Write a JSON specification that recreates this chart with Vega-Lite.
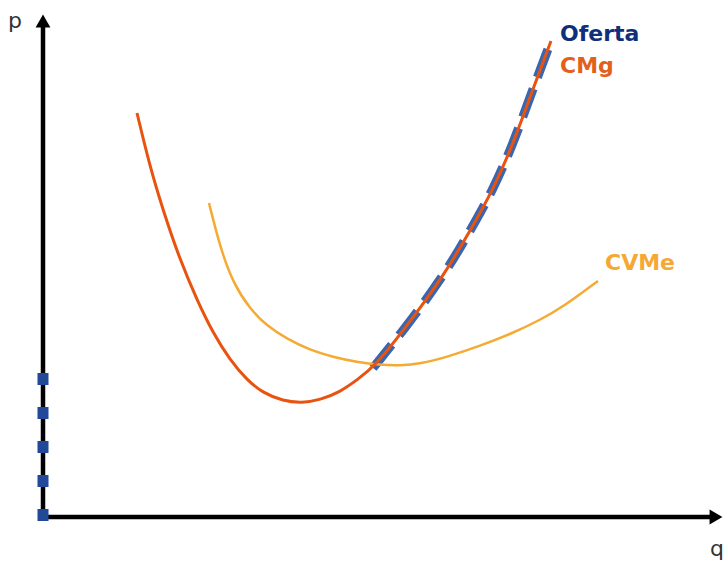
{
  "$schema": "https://vega.github.io/schema/vega-lite/v6.json",
  "width": 728,
  "height": 563,
  "padding": 0,
  "autosize": {"type": "fit", "contains": "padding"},
  "background": "white",
  "config": {"view": {"stroke": null}},
  "datasets": {
    "curves": [
      {"s": "CMg", "q": 9.4, "p": 40.4},
      {"s": "CMg", "q": 10.7, "p": 35.0},
      {"s": "CMg", "q": 12.0, "p": 30.7},
      {"s": "CMg", "q": 13.7, "p": 25.7},
      {"s": "CMg", "q": 15.4, "p": 21.7},
      {"s": "CMg", "q": 17.0, "p": 18.4},
      {"s": "CMg", "q": 18.7, "p": 15.7},
      {"s": "CMg", "q": 20.4, "p": 13.7},
      {"s": "CMg", "q": 22.0, "p": 12.4},
      {"s": "CMg", "q": 24.0, "p": 11.6},
      {"s": "CMg", "q": 25.9, "p": 11.4},
      {"s": "CMg", "q": 27.7, "p": 11.7},
      {"s": "CMg", "q": 29.7, "p": 12.5},
      {"s": "CMg", "q": 31.4, "p": 13.7},
      {"s": "CMg", "q": 33.2, "p": 15.1},
      {"s": "CMg", "q": 36.0, "p": 18.6},
      {"s": "CMg", "q": 40.0, "p": 24.0},
      {"s": "CMg", "q": 42.7, "p": 28.6},
      {"s": "CMg", "q": 45.0, "p": 32.7},
      {"s": "CMg", "q": 47.0, "p": 37.3},
      {"s": "CMg", "q": 48.7, "p": 42.0},
      {"s": "CMg", "q": 50.8, "p": 47.6},
      {"s": "CVMe", "q": 16.6, "p": 31.4},
      {"s": "CVMe", "q": 17.7, "p": 27.0},
      {"s": "CVMe", "q": 19.0, "p": 23.4},
      {"s": "CVMe", "q": 20.7, "p": 20.8},
      {"s": "CVMe", "q": 22.4, "p": 19.1},
      {"s": "CVMe", "q": 24.4, "p": 17.8},
      {"s": "CVMe", "q": 26.7, "p": 16.7},
      {"s": "CVMe", "q": 29.0, "p": 16.0},
      {"s": "CVMe", "q": 31.4, "p": 15.5},
      {"s": "CVMe", "q": 33.7, "p": 15.2},
      {"s": "CVMe", "q": 35.7, "p": 15.15},
      {"s": "CVMe", "q": 37.7, "p": 15.3},
      {"s": "CVMe", "q": 40.4, "p": 16.0},
      {"s": "CVMe", "q": 43.7, "p": 17.1},
      {"s": "CVMe", "q": 47.0, "p": 18.4},
      {"s": "CVMe", "q": 49.7, "p": 19.7},
      {"s": "CVMe", "q": 52.0, "p": 21.0},
      {"s": "CVMe", "q": 55.5, "p": 23.6},
      {"s": "Oferta", "q": 33.0, "p": 14.9},
      {"s": "Oferta", "q": 36.0, "p": 18.6},
      {"s": "Oferta", "q": 40.0, "p": 24.0},
      {"s": "Oferta", "q": 42.7, "p": 28.6},
      {"s": "Oferta", "q": 45.0, "p": 32.7},
      {"s": "Oferta", "q": 47.0, "p": 37.3},
      {"s": "Oferta", "q": 48.7, "p": 42.0},
      {"s": "Oferta", "q": 50.8, "p": 47.6}
    ],
    "ofertaAxis": [
      {"q": 0, "p": -0.4},
      {"q": 0, "p": 14.4}
    ],
    "axes": [
      {"q": 0, "p": 0, "q2": 0, "p2": 49.0},
      {"q": 0, "p": 0, "q2": 66.8, "p2": 0}
    ],
    "arrows": [
      {"q": 0, "p": 49.6, "shape": "triangle-up"},
      {"q": 67.3, "p": 0, "shape": "triangle-right"}
    ],
    "labels": [
      {"t": "Oferta", "q": 51.7, "p": 48.3, "c": "Oferta"},
      {"t": "CMg", "q": 51.7, "p": 45.1, "c": "CMg"},
      {"t": "CVMe", "q": 56.2, "p": 25.4, "c": "CVMe"}
    ],
    "axisLabels": [
      {"t": "p", "q": -2.8, "p": 49.6},
      {"t": "q", "q": 67.4, "p": -3.2}
    ]
  },
  "layer": [
    {
      "data": {"name": "axes"},
      "mark": {"type": "rule", "color": "black", "strokeWidth": 4.5},
      "encoding": {
        "x": {"field": "q", "type": "quantitative", "scale": {"domain": [-4.3, 68.5], "nice": false, "zero": false}, "axis": null},
        "y": {"field": "p", "type": "quantitative", "scale": {"domain": [-4.6, 51.7], "nice": false, "zero": false}, "axis": null},
        "x2": {"field": "q2"},
        "y2": {"field": "p2"}
      }
    },
    {
      "data": {"name": "arrows"},
      "mark": {"type": "point", "filled": true, "color": "black", "opacity": 1, "size": 220},
      "encoding": {
        "x": {"field": "q", "type": "quantitative"},
        "y": {"field": "p", "type": "quantitative"},
        "shape": {"field": "shape", "type": "nominal", "scale": null}
      }
    },
    {
      "data": {"name": "ofertaAxis"},
      "mark": {"type": "line", "color": "#22489a", "strokeWidth": 11, "strokeDash": [12, 22], "strokeCap": "butt"},
      "encoding": {
        "x": {"field": "q", "type": "quantitative"},
        "y": {"field": "p", "type": "quantitative"}
      }
    },
    {
      "data": {"name": "curves"},
      "transform": [{"filter": "datum.s === 'Oferta'"}],
      "mark": {"type": "line", "color": "#3a66b0", "strokeWidth": 9, "strokeDash": [30, 12], "strokeCap": "butt", "interpolate": "basis"},
      "encoding": {
        "x": {"field": "q", "type": "quantitative"},
        "y": {"field": "p", "type": "quantitative"}
      }
    },
    {
      "data": {"name": "curves"},
      "transform": [{"filter": "datum.s === 'CVMe'"}],
      "mark": {"type": "line", "color": "#f5aa33", "strokeWidth": 2.5, "interpolate": "basis"},
      "encoding": {
        "x": {"field": "q", "type": "quantitative"},
        "y": {"field": "p", "type": "quantitative"}
      }
    },
    {
      "data": {"name": "curves"},
      "transform": [{"filter": "datum.s === 'CMg'"}],
      "mark": {"type": "line", "color": "#e8530f", "strokeWidth": 3, "interpolate": "basis"},
      "encoding": {
        "x": {"field": "q", "type": "quantitative"},
        "y": {"field": "p", "type": "quantitative"}
      }
    },
    {
      "data": {"name": "labels"},
      "mark": {"type": "text", "align": "left", "baseline": "middle", "font": "DejaVu Sans", "fontWeight": "bold", "fontSize": 22},
      "encoding": {
        "x": {"field": "q", "type": "quantitative"},
        "y": {"field": "p", "type": "quantitative"},
        "text": {"field": "t"},
        "color": {"field": "c", "type": "nominal", "legend": null, "scale": {"domain": ["Oferta", "CMg", "CVMe"], "range": ["#0f2f7d", "#e35f1c", "#f5a835"]}}
      }
    },
    {
      "data": {"name": "axisLabels"},
      "mark": {"type": "text", "align": "center", "baseline": "middle", "font": "DejaVu Sans", "fontSize": 22, "color": "#333333"},
      "encoding": {
        "x": {"field": "q", "type": "quantitative"},
        "y": {"field": "p", "type": "quantitative"},
        "text": {"field": "t"}
      }
    }
  ]
}
